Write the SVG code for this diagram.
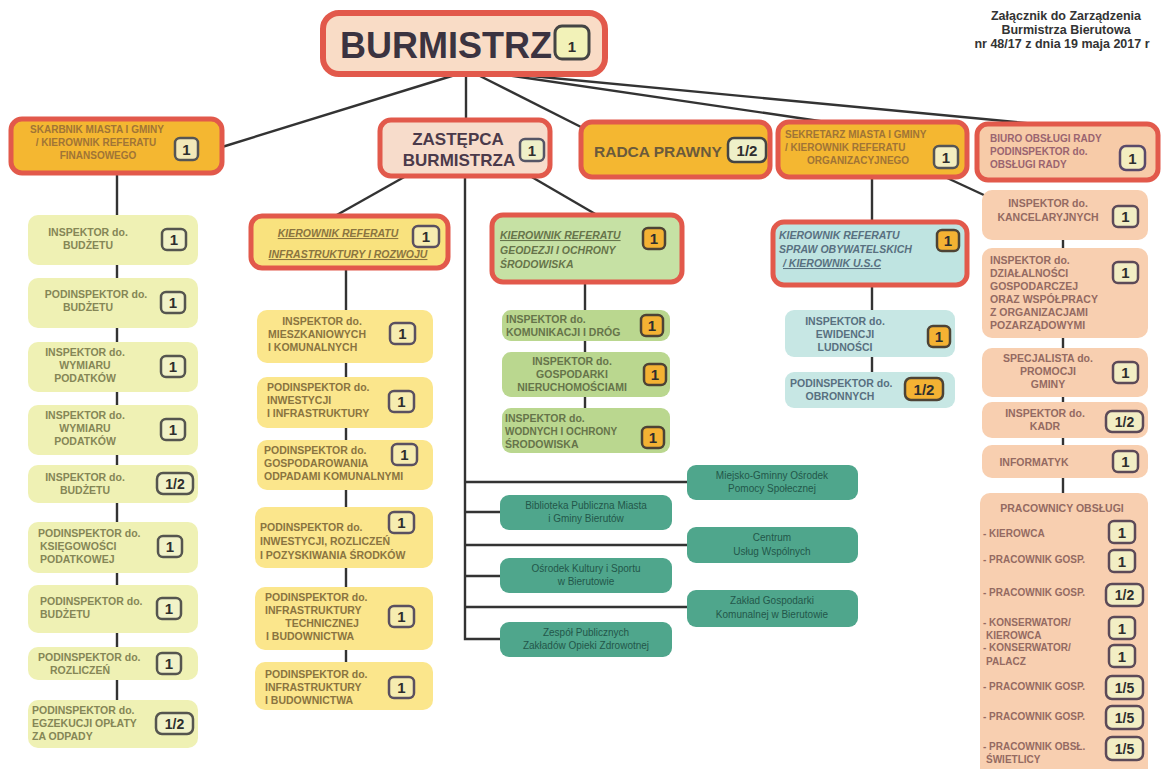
<svg xmlns="http://www.w3.org/2000/svg" width="1166" height="769" viewBox="0 0 1166 769">
<style>
.ln{stroke:#333;stroke-width:2.4;fill:none}
.hd{stroke:#e2594b;stroke-width:5}
.t{font-family:"Liberation Sans",Arial,sans-serif;font-weight:bold;font-size:10.5px}
.s10{font-size:10px}
.c{text-anchor:middle}
.it{font-style:italic}
.u{text-decoration:underline}
.bt{font-family:"Liberation Sans",Arial,sans-serif;font-weight:bold;font-size:15px;text-anchor:middle;fill:#2e2e2e}
.bt2{font-size:14px}
.b1{fill:#f1f2c8;stroke:#55554f;stroke-width:2.5}
.b2{fill:#f6ecb0;stroke:#5a5060;stroke-width:2.5}
.bo{fill:#f4b233;stroke:#4d4335;stroke-width:2.5}
.b5{fill:#f2eec4;stroke:#5c4a58;stroke-width:2.5}
.g1{fill:#eff1b4}.x1{fill:#858656}
.g2{fill:#fbe68c}.x2{fill:#8a7440}
.g3{fill:#bad78f}.x3{fill:#66744a}
.g4{fill:#c7e7e4}.x4{fill:#587080}
.g5{fill:#f8cfb0}.x5{fill:#946a62}
.tl{fill:#4fa68c}
.tt{font-family:"Liberation Sans",Arial,sans-serif;font-size:10px;text-anchor:middle;fill:#23574a}
.nt{font-family:"Liberation Sans",Arial,sans-serif;font-weight:bold;font-size:12.5px;text-anchor:middle;fill:#333}
</style>

<g id="connectors">
<line class="ln" x1="455" y1="75" x2="222" y2="147"/>
<line class="ln" x1="466" y1="75" x2="466" y2="120"/>
<line class="ln" x1="478" y1="75" x2="583" y2="128"/>
<line class="ln" x1="500" y1="74" x2="826" y2="122"/>
<line class="ln" x1="510" y1="74" x2="1036" y2="124"/>
<line class="ln" x1="406" y1="176" x2="335" y2="216"/>
<line class="ln" x1="530" y1="176" x2="597" y2="215"/>
<polyline class="ln" points="465,176 465,639 500,639"/>
<line class="ln" x1="465" y1="482" x2="687" y2="482"/>
<line class="ln" x1="465" y1="512" x2="500" y2="512"/>
<line class="ln" x1="465" y1="545" x2="687" y2="545"/>
<line class="ln" x1="465" y1="576" x2="500" y2="576"/>
<line class="ln" x1="465" y1="607" x2="687" y2="607"/>
<line class="ln" x1="117" y1="173" x2="117" y2="700"/>
<line class="ln" x1="346" y1="268" x2="346" y2="662"/>
<line class="ln" x1="585" y1="282" x2="585" y2="408"/>
<line class="ln" x1="872" y1="177" x2="872" y2="372"/>
<line class="ln" x1="945" y1="177" x2="986" y2="196"/>
<line class="ln" x1="1063" y1="240" x2="1063" y2="493"/>
</g>

<g id="note">
<text class="nt" x="1066" y="20">Załącznik do Zarządzenia</text>
<text class="nt" x="1066" y="34">Burmistrza Bierutowa</text>
<text class="nt" x="1062" y="48">nr 48/17 z dnia 19 maja 2017 r</text>
</g>

<g id="n-burmistrz">
<rect x="323" y="13" width="282" height="61" rx="16" fill="#f9dcc6" stroke="#e2594b" stroke-width="6"/>
<text x="340" y="58" font-family="Liberation Sans, Arial, sans-serif" font-weight="bold" font-size="36" fill="#3b3340">BURMISTRZ</text>
<rect x="555" y="26" width="34" height="33" rx="7" fill="#f2f2b8" stroke="#444" stroke-width="3"/>
<text class="bt" x="572" y="52" font-size="25">1</text>
</g>

<g id="n-skarbnik">
<rect class="hd" x="11" y="119" width="211" height="54" rx="11" fill="#f4b731"/>
<text class="t c s10" x="97" y="133" fill="#a07436">SKARBNIK MIASTA I GMINY</text>
<text class="t c s10" x="96" y="146" fill="#a07436">/ KIEROWNIK REFERATU</text>
<text class="t c s10" x="98" y="159" fill="#a07436">FINANSOWEGO</text>
<rect x="175" y="138" width="23" height="22" rx="5" fill="#f3e9b8" stroke="#555" stroke-width="2.5"/>
<text class="bt" x="186.5" y="155">1</text>
</g>

<g id="n-zastepca">
<rect class="hd" x="380" y="120" width="170" height="56" rx="11" fill="#f7dccb"/>
<text x="458" y="145" font-family="Liberation Sans, Arial, sans-serif" font-weight="bold" font-size="17" text-anchor="middle" fill="#4b3a4a">ZASTĘPCA</text>
<text x="459" y="166" font-family="Liberation Sans, Arial, sans-serif" font-weight="bold" font-size="17" text-anchor="middle" fill="#4b3a4a">BURMISTRZA</text>
<rect x="520" y="139" width="24" height="22" rx="5" fill="#eef0c8" stroke="#556" stroke-width="2.5"/>
<text class="bt" x="532" y="156">1</text>
</g>

<g id="n-radca">
<rect class="hd" x="581" y="122" width="189" height="55" rx="11" fill="#f4b731"/>
<text x="594" y="157" font-family="Liberation Sans, Arial, sans-serif" font-weight="bold" font-size="15.5" fill="#6a5a3c">RADCA PRAWNY</text>
<rect x="728" y="138" width="38" height="24" rx="6" fill="#eef0c8" stroke="#444" stroke-width="2.5"/>
<text class="bt" x="747" y="156">1/2</text>
</g>

<g id="n-sekretarz">
<rect class="hd" x="778" y="122" width="189" height="55" rx="11" fill="#f4b731"/>
<text class="t s10" x="785" y="138" fill="#a07436">SEKRETARZ MIASTA I GMINY</text>
<text class="t s10" x="785" y="151" fill="#a07436">/ KIEROWNIK REFERATU</text>
<text class="t c s10" x="858" y="164" fill="#a07436">ORGANIZACYJNEGO</text>
<rect x="934" y="146" width="24" height="22" rx="5" fill="#f3eec0" stroke="#555" stroke-width="2.5"/>
<text class="bt" x="946" y="163">1</text>
</g>

<g id="n-biuro">
<rect class="hd" x="977" y="124" width="181" height="56" rx="11" fill="#f7cba8"/>
<text class="t s10" x="990" y="142" fill="#9a6470">BIURO OBSŁUGI RADY</text>
<text class="t s10" x="990" y="155" fill="#9a6470">PODINSPEKTOR do.</text>
<text class="t s10" x="990" y="168" fill="#9a6470">OBSŁUGI RADY</text>
<rect x="1120" y="146" width="25" height="24" rx="6" fill="#f3eec0" stroke="#5a4a6a" stroke-width="2.5"/>
<text class="bt" x="1132.5" y="164">1</text>
</g>

<!-- Column 1 -->
<g id="c1-1">
<rect class="g1" x="28" y="215" width="170" height="50" rx="10"/>
<text class="t c x1" x="88" y="236">INSPEKTOR do.</text>
<text class="t c x1" x="88" y="249">BUDŻETU</text>
<rect class="b1" x="162" y="229" width="24" height="21" rx="5"/><text class="bt" x="174" y="245">1</text>
</g>
<g id="c1-2">
<rect class="g1" x="28" y="278" width="170" height="50" rx="10"/>
<text class="t c x1" x="96" y="298">PODINSPEKTOR do.</text>
<text class="t c x1" x="88" y="311">BUDŻETU</text>
<rect class="b1" x="161" y="292" width="24" height="21" rx="5"/><text class="bt" x="173" y="308">1</text>
</g>
<g id="c1-3">
<rect class="g1" x="28" y="342" width="170" height="50" rx="10"/>
<text class="t c x1" x="85" y="356">INSPEKTOR do.</text>
<text class="t c x1" x="85" y="369">WYMIARU</text>
<text class="t c x1" x="85" y="382">PODATKÓW</text>
<rect class="b1" x="161" y="356" width="24" height="21" rx="5"/><text class="bt" x="173" y="372">1</text>
</g>
<g id="c1-4">
<rect class="g1" x="28" y="405" width="170" height="50" rx="10"/>
<text class="t c x1" x="85" y="419">INSPEKTOR do.</text>
<text class="t c x1" x="85" y="432">WYMIARU</text>
<text class="t c x1" x="85" y="445">PODATKÓW</text>
<rect class="b1" x="161" y="419" width="24" height="21" rx="5"/><text class="bt" x="173" y="435">1</text>
</g>
<g id="c1-5">
<rect class="g1" x="28" y="465" width="170" height="38" rx="10"/>
<text class="t c x1" x="85" y="481">INSPEKTOR do.</text>
<text class="t c x1" x="85" y="494">BUDŻETU</text>
<rect class="b1" x="157" y="473" width="36" height="21" rx="6"/><text class="bt bt2" x="175" y="489">1/2</text>
</g>
<g id="c1-6">
<rect class="g1" x="28" y="522" width="170" height="51" rx="10"/>
<text class="t x1" x="38" y="537">PODINSPEKTOR do.</text>
<text class="t x1" x="40" y="550">KSIĘGOWOŚCI</text>
<text class="t x1" x="40" y="563">PODATKOWEJ</text>
<rect class="b1" x="158" y="536" width="24" height="21" rx="5"/><text class="bt" x="170" y="552">1</text>
</g>
<g id="c1-7">
<rect class="g1" x="28" y="585" width="170" height="48" rx="10"/>
<text class="t x1" x="40" y="605">PODINSPEKTOR do.</text>
<text class="t x1" x="40" y="618">BUDŻETU</text>
<rect class="b1" x="157" y="598" width="24" height="21" rx="5"/><text class="bt" x="169" y="614">1</text>
</g>
<g id="c1-8">
<rect class="g1" x="28" y="647" width="170" height="33" rx="10"/>
<text class="t x1" x="38" y="661">PODINSPEKTOR do.</text>
<text class="t x1" x="50" y="674">ROZLICZEŃ</text>
<rect class="b1" x="157" y="653" width="24" height="21" rx="5"/><text class="bt" x="169" y="669">1</text>
</g>
<g id="c1-9">
<rect class="g1" x="28" y="700" width="170" height="48" rx="10"/>
<text class="t x1" x="32" y="714">PODINSPEKTOR do.</text>
<text class="t x1" x="32" y="727">EGZEKUCJI OPŁATY</text>
<text class="t x1" x="32" y="740">ZA ODPADY</text>
<rect class="b1" x="156" y="713" width="37" height="21" rx="6"/><text class="bt bt2" x="174.5" y="729">1/2</text>
</g>

<!-- Column 2 -->
<g id="c2-head">
<rect class="hd" x="251" y="216" width="197" height="52" rx="11" fill="#f9e27e"/>
<text class="t c it u x2" x="338" y="237">KIEROWNIK REFERATU</text>
<text class="t c it u x2" x="348" y="258">INFRASTRUKTURY I ROZWOJU</text>
<rect class="b2" x="413" y="226" width="26" height="21" rx="5"/><text class="bt" x="426" y="242">1</text>
</g>
<g id="c2-1">
<rect class="g2" x="257" y="310" width="176" height="53" rx="10"/>
<text class="t c x2" x="322" y="325">INSPEKTOR do.</text>
<text class="t x2" x="268" y="338">MIESZKANIOWYCH</text>
<text class="t x2" x="268" y="351">I KOMUNALNYCH</text>
<rect class="b2" x="390" y="323" width="25" height="21" rx="5"/><text class="bt" x="402.5" y="339">1</text>
</g>
<g id="c2-2">
<rect class="g2" x="257" y="377" width="176" height="51" rx="10"/>
<text class="t x2" x="267" y="391">PODINSPEKTOR do.</text>
<text class="t x2" x="267" y="404">INWESTYCJI</text>
<text class="t x2" x="267" y="417">I INFRASTRUKTURY</text>
<rect class="b2" x="389" y="391" width="25" height="21" rx="5"/><text class="bt" x="401.5" y="407">1</text>
</g>
<g id="c2-3">
<rect class="g2" x="257" y="440" width="176" height="50" rx="10"/>
<text class="t x2" x="264" y="454">PODINSPEKTOR do.</text>
<text class="t x2" x="264" y="467">GOSPODAROWANIA</text>
<text class="t x2" x="264" y="480">ODPADAMI KOMUNALNYMI</text>
<rect class="b2" x="392" y="444" width="25" height="21" rx="5"/><text class="bt" x="404.5" y="460">1</text>
</g>
<g id="c2-4">
<rect class="g2" x="255" y="507" width="178" height="61" rx="10"/>
<text class="t x2" x="260" y="531">PODINSPEKTOR do.</text>
<text class="t x2" x="260" y="545">INWESTYCJI, ROZLICZEŃ</text>
<text class="t x2" x="260" y="559">I POZYSKIWANIA ŚRODKÓW</text>
<rect class="b2" x="389" y="512" width="25" height="21" rx="5"/><text class="bt" x="401.5" y="528">1</text>
</g>
<g id="c2-5">
<rect class="g2" x="255" y="587" width="178" height="63" rx="10"/>
<text class="t x2" x="265" y="601">PODINSPEKTOR do.</text>
<text class="t x2" x="265" y="614">INFRASTRUKTURY</text>
<text class="t c x2" x="322" y="627">TECHNICZNEJ</text>
<text class="t x2" x="266" y="640">I BUDOWNICTWA</text>
<rect class="b2" x="389" y="606" width="25" height="21" rx="5"/><text class="bt" x="401.5" y="622">1</text>
</g>
<g id="c2-6">
<rect class="g2" x="255" y="662" width="178" height="48" rx="10"/>
<text class="t x2" x="265" y="678">PODINSPEKTOR do.</text>
<text class="t x2" x="265" y="691">INFRASTRUKTURY</text>
<text class="t x2" x="265" y="704">I BUDOWNICTWA</text>
<rect class="b2" x="389" y="677" width="25" height="21" rx="5"/><text class="bt" x="401.5" y="693">1</text>
</g>

<!-- Column 3 -->
<g id="c3-head">
<rect class="hd" x="492" y="215" width="190" height="67" rx="11" fill="#c6e1a4"/>
<text class="t it u x3" x="500" y="239">KIEROWNIK REFERATU</text>
<text class="t it x3" x="500" y="254">GEODEZJI I OCHRONY</text>
<text class="t it x3" x="500" y="268">ŚRODOWISKA</text>
<rect class="bo" x="643" y="228" width="22" height="21" rx="5"/><text class="bt" x="654" y="244">1</text>
</g>
<g id="c3-1">
<rect class="g3" x="502" y="310" width="168" height="31" rx="9"/>
<text class="t x3" x="506" y="323">INSPEKTOR do.</text>
<text class="t x3" x="506" y="336">KOMUNIKACJI I DRÓG</text>
<rect class="bo" x="641" y="315" width="22" height="21" rx="5"/><text class="bt" x="652" y="331">1</text>
</g>
<g id="c3-2">
<rect class="g3" x="502" y="352" width="168" height="45" rx="9"/>
<text class="t c x3" x="572" y="365">INSPEKTOR do.</text>
<text class="t c x3" x="572" y="378">GOSPODARKI</text>
<text class="t c x3" x="572" y="391">NIERUCHOMOŚCIAMI</text>
<rect class="bo" x="644" y="364" width="22" height="21" rx="5"/><text class="bt" x="655" y="380">1</text>
</g>
<g id="c3-3">
<rect class="g3" x="502" y="408" width="168" height="45" rx="9"/>
<text class="t x3" x="505" y="422">INSPEKTOR do.</text>
<text class="t x3 s10" x="505" y="435">WODNYCH I OCHRONY</text>
<text class="t x3" x="505" y="448">ŚRODOWISKA</text>
<rect class="bo" x="642" y="427" width="22" height="21" rx="5"/><text class="bt" x="653" y="443">1</text>
</g>

<!-- Column 4 -->
<g id="c4-head">
<rect class="hd" x="773" y="222" width="194" height="63" rx="11" fill="#bfe4e1"/>
<text class="t it x4" x="779" y="239">KIEROWNIK REFERATU</text>
<text class="t it x4" x="779" y="253">SPRAW OBYWATELSKICH</text>
<text class="t it u x4" x="783" y="267">/ KIEROWNIK U.S.C</text>
<rect class="bo" x="937" y="230" width="22" height="21" rx="5"/><text class="bt" x="948" y="246">1</text>
</g>
<g id="c4-1">
<rect class="g4" x="785" y="310" width="170" height="47" rx="9"/>
<text class="t c x4" x="845" y="325">INSPEKTOR do.</text>
<text class="t c x4" x="845" y="338">EWIDENCJI</text>
<text class="t c x4" x="845" y="351">LUDNOŚCI</text>
<rect class="bo" x="928" y="326" width="22" height="21" rx="5"/><text class="bt" x="939" y="342">1</text>
</g>
<g id="c4-2">
<rect class="g4" x="785" y="372" width="170" height="36" rx="9"/>
<text class="t x4" x="790" y="387">PODINSPEKTOR do.</text>
<text class="t c x4" x="840" y="400">OBRONNYCH</text>
<rect class="bo" x="905" y="378" width="38" height="22" rx="6"/><text class="bt" x="924" y="395">1/2</text>
</g>

<!-- Column 5 -->
<g id="c5-1">
<rect class="g5" x="982" y="190" width="166" height="50" rx="10"/>
<text class="t c x5" x="1048" y="207">INSPEKTOR do.</text>
<text class="t c x5" x="1048" y="221">KANCELARYJNYCH</text>
<rect class="b5" x="1113" y="206" width="25" height="21" rx="5"/><text class="bt" x="1125.5" y="222">1</text>
</g>
<g id="c5-2">
<rect class="g5" x="982" y="248" width="166" height="90" rx="10"/>
<text class="t x5" x="990" y="264">INSPEKTOR do.</text>
<text class="t x5" x="990" y="277">DZIAŁALNOŚCI</text>
<text class="t x5" x="990" y="290">GOSPODARCZEJ</text>
<text class="t x5" x="990" y="303">ORAZ WSPÓŁPRACY</text>
<text class="t x5" x="990" y="316">Z ORGANIZACJAMI</text>
<text class="t x5" x="990" y="329">POZARZĄDOWYMI</text>
<rect class="b5" x="1113" y="262" width="25" height="21" rx="5"/><text class="bt" x="1125.5" y="278">1</text>
</g>
<g id="c5-3">
<rect class="g5" x="982" y="348" width="166" height="49" rx="10"/>
<text class="t c x5" x="1048" y="362">SPECJALISTA do.</text>
<text class="t c x5" x="1048" y="375">PROMOCJI</text>
<text class="t c x5" x="1048" y="388">GMINY</text>
<rect class="b5" x="1113" y="362" width="25" height="21" rx="5"/><text class="bt" x="1125.5" y="378">1</text>
</g>
<g id="c5-4">
<rect class="g5" x="982" y="402" width="166" height="36" rx="10"/>
<text class="t c x5" x="1045" y="417">INSPEKTOR do.</text>
<text class="t c x5" x="1045" y="430">KADR</text>
<rect class="b5" x="1106" y="411" width="37" height="21" rx="6"/><text class="bt bt2" x="1124.5" y="427">1/2</text>
</g>
<g id="c5-5">
<rect class="g5" x="982" y="445" width="166" height="33" rx="10"/>
<text class="t c x5" x="1034" y="466">INFORMATYK</text>
<rect class="b5" x="1113" y="451" width="25" height="21" rx="5"/><text class="bt" x="1125.5" y="467">1</text>
</g>
<g id="c5-6">
<rect class="g5" x="980" y="493" width="168" height="290" rx="10"/>
<text class="t c x5" x="1062" y="512">PRACOWNICY OBSŁUGI</text>
<text class="t s10 x5" x="983" y="537">- KIEROWCA</text>
<rect class="b5" x="1109" y="521" width="26" height="22" rx="5"/><text class="bt" x="1122" y="538">1</text>
<text class="t s10 x5" x="983" y="563">- PRACOWNIK GOSP.</text>
<rect class="b5" x="1109" y="550" width="26" height="22" rx="5"/><text class="bt" x="1122" y="567">1</text>
<text class="t s10 x5" x="983" y="596">- PRACOWNIK GOSP.</text>
<rect class="b5" x="1106" y="584" width="37" height="22" rx="6"/><text class="bt bt2" x="1124.5" y="600">1/2</text>
<text class="t s10 x5" x="983" y="626">- KONSERWATOR/</text>
<text class="t s10 x5" x="986" y="639">KIEROWCA</text>
<rect class="b5" x="1109" y="617" width="26" height="22" rx="5"/><text class="bt" x="1122" y="634">1</text>
<text class="t s10 x5" x="983" y="651">- KONSERWATOR/</text>
<text class="t s10 x5" x="986" y="665">PALACZ</text>
<rect class="b5" x="1109" y="645" width="26" height="22" rx="5"/><text class="bt" x="1122" y="662">1</text>
<text class="t s10 x5" x="983" y="690">- PRACOWNIK GOSP.</text>
<rect class="b5" x="1106" y="676" width="37" height="23" rx="6"/><text class="bt bt2" x="1124.5" y="693">1/5</text>
<text class="t s10 x5" x="983" y="720">- PRACOWNIK GOSP.</text>
<rect class="b5" x="1106" y="706" width="37" height="23" rx="6"/><text class="bt bt2" x="1124.5" y="723">1/5</text>
<text class="t s10 x5" x="983" y="750">- PRACOWNIK OBSŁ.</text>
<text class="t s10 x5" x="986" y="763">ŚWIETLICY</text>
<rect class="b5" x="1106" y="737" width="37" height="23" rx="6"/><text class="bt bt2" x="1124.5" y="754">1/5</text>
</g>

<!-- Teal units -->
<g id="t-mgops">
<rect class="tl" x="687" y="465" width="171" height="35" rx="9"/>
<text class="tt" x="772" y="479">Miejsko-Gminny Ośrodek</text>
<text class="tt" x="772" y="492">Pomocy Społecznej</text>
</g>
<g id="t-biblioteka">
<rect class="tl" x="500" y="495" width="172" height="35" rx="9"/>
<text class="tt" x="586" y="509">Biblioteka Publiczna Miasta</text>
<text class="tt" x="586" y="522">i Gminy Bierutów</text>
</g>
<g id="t-cuw">
<rect class="tl" x="687" y="527" width="171" height="36" rx="9"/>
<text class="tt" x="772" y="541">Centrum</text>
<text class="tt" x="772" y="555">Usług Wspólnych</text>
</g>
<g id="t-okis">
<rect class="tl" x="500" y="558" width="172" height="35" rx="9"/>
<text class="tt" x="586" y="572">Ośrodek Kultury i Sportu</text>
<text class="tt" x="586" y="585">w Bierutowie</text>
</g>
<g id="t-zgk">
<rect class="tl" x="687" y="590" width="171" height="37" rx="9"/>
<text class="tt" x="772" y="604">Zakład Gospodarki</text>
<text class="tt" x="772" y="618">Komunalnej w Bierutowie</text>
</g>
<g id="t-zpzoz">
<rect class="tl" x="500" y="622" width="172" height="35" rx="9"/>
<text class="tt" x="586" y="636">Zespół Publicznych</text>
<text class="tt" x="586" y="649">Zakładów Opieki Zdrowotnej</text>
</g>
</svg>
